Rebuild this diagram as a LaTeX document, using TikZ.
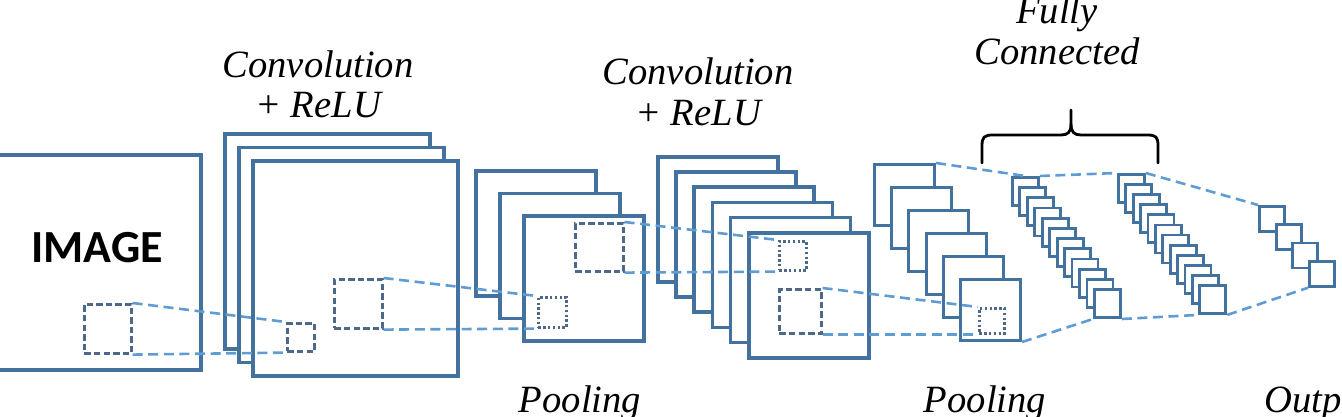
\documentclass[tikz,border=0pt]{standalone}
\usepackage{fontspec}
\setmainfont{Liberation Serif}
\newfontfamily\imagefont{Carlito}
\usepackage{tikz}
\usetikzlibrary{positioning}

\definecolor{mapblue}{RGB}{68,114,158}
\definecolor{winblue}{RGB}{78,104,138}
\definecolor{linkblue}{RGB}{96,156,212}

\begin{document}
\begin{tikzpicture}[x=0.5pt, y=-0.5pt,
        fmap/.style={rectangle, draw=mapblue, line width=1.8pt, fill=white, inner sep=0pt, anchor=north west},
        bigmap/.style={fmap, minimum width=102.5pt, minimum height=107.5pt},
        midmap/.style={fmap, minimum width=60pt, minimum height=62.5pt},
        smallmap/.style={fmap, line width=1.5pt, minimum width=30pt, minimum height=30.5pt},
        fcunit/.style={fmap, line width=1.4pt, minimum width=13pt, minimum height=14pt},
        outunit/.style={fmap, line width=1.4pt, minimum size=12.5pt},
        window/.style={rectangle, draw=winblue, line width=1.3pt, dash pattern=on 3.2pt off 1.6pt, inner sep=0pt, anchor=north west},
        pick/.style={rectangle, draw=winblue, line width=1.3pt, dash pattern=on 1.2pt off 1.2pt, inner sep=0pt, anchor=north west},
        link/.style={draw=linkblue, line width=1.3pt, dash pattern=on 5pt off 2.8pt},
        lbl/.style={font=\itshape\fontsize{19.3}{20.5}\selectfont, align=center, inner sep=0pt},
        fcbrace/.style={line width=1.4pt, black, line cap=round}
      ]
        \useasboundingbox (0,0) rectangle (1342,417);
        \clip (0,0) rectangle (1342,417);

        % input image
        \node[bigmap, minimum width=104.5pt]  (image)     at (-10,153)  {};
        \node[font=\imagefont\bfseries\fontsize{23}{27}\selectfont]  (imagetxt)  at (97,248)  {IMAGE};
        \node[window, minimum width=23.5pt, minimum height=24.5pt]  (win0)  at (83,303)  {};

        % convolution 1
        \foreach \i in {0,1,2}
          \node[bigmap]  (conv1-\i)  at (223+14*\i, 132+13.5*\i)  {};
        \node[window, minimum width=13.5pt, minimum height=14pt]  (pick1)  at (286,322)  {};
        \node[window, minimum width=24pt, minimum height=24.5pt]  (win1)  at (333,278)  {};

        % pooling 1
        \foreach \i in {0,1,2}
          \node[midmap]  (pool1-\i)  at (474+24*\i, 169+22.5*\i)  {};
        \node[pick, minimum width=14pt, minimum height=15pt]  (pick2)  at (537,296)  {};
        \node[window, minimum size=24pt]  (win2)  at (574,222)  {};

        % convolution 2
        \foreach \i in {0,...,5}
          \node[midmap]  (conv2-\i)  at (656+18.2*\i, 155+15.2*\i)  {};
        \node[pick, minimum width=13.5pt, minimum height=14.5pt]  (pick3)  at (778,240)  {};
        \node[window, minimum width=21pt, minimum height=22pt]  (win3)  at (778,288)  {};

        % pooling 2
        \foreach \i in {0,...,5}
          \node[smallmap]  (pool2-\i)  at (873+17.2*\i, 163+23*\i)  {};
        \node[pick, minimum size=12.5pt]  (pick4)  at (978,307)  {};

        % fully connected + output
        \foreach \i in {0,...,11} {
          \node[fcunit]  (fca-\i)  at (1011+7.45*\i, 176+10.2*\i)  {};
          \node[fcunit]  (fcb-\i)  at (1117+7.4*\i, 173+10.1*\i)  {};
        }
        \foreach \i in {0,...,3}
          \node[outunit]  (out-\i)  at (1258+16.7*\i, 205+18.3*\i)  {};

        % receptive fields
        \draw[link]  (win0.north east) -- (pick1.north west);
        \draw[link]  (win0.south east) -- (pick1.south west);
        \draw[link]  (win1.north east) -- (pick2.north west);
        \draw[link]  (win1.south east) -- (pick2.south west);
        \draw[link]  (win2.north east) -- (pick3.north west);
        \draw[link]  (win2.south east) -- (pick3.south west);
        \draw[link]  (win3.north east) -- (pick4.north west);
        \draw[link]  (win3.south east) -- (pick4.south west);

        \draw[link]  (pool2-0.north east) -- (fca-0.north);
        \draw[link]  (fca-0.north east) -- (fcb-0.north west);
        \draw[link]  (fcb-0.north east) -- (out-0.north west);
        \draw[link]  (pool2-5.south east) -- (fca-11.south west);
        \draw[link]  (fca-11.south east) -- (fcb-11.south west);
        \draw[link]  (fcb-11.south east) -- (out-3.south west);

        % brace over the dense layers
        \draw[fcbrace]  (982,163) -- (982,146) .. controls (982,137) and (984,135) .. (993,135)
                        -- (1061,135) .. controls (1068,135) and (1071,132) .. (1071,124) -- (1071,110);
        \draw[fcbrace]  (1071,124) .. controls (1071,132) and (1074,135) .. (1081,135)
                        -- (1147,135) .. controls (1156,135) and (1158,137) .. (1158,146) -- (1158,163);

        % labels
        \node[lbl, anchor=base]  (conv1lbl)  at (318,118)  {Convolution\\+ ReLU};
        \node[lbl, anchor=base]  (conv2lbl)  at (698,126)  {Convolution\\+ ReLU};
        \node[lbl, anchor=base]  (fclbl)     at (1057,65)  {Fully\\Connected};
        \node[lbl, anchor=base]  (pool1lbl)  at (580,412)  {Pooling};
        \node[lbl, anchor=base]  (pool2lbl)  at (985,412)  {Pooling};
        \node[lbl, anchor=base west]  (outlbl)  at (1264,412)  {Output};
      \end{tikzpicture}
\end{document}
